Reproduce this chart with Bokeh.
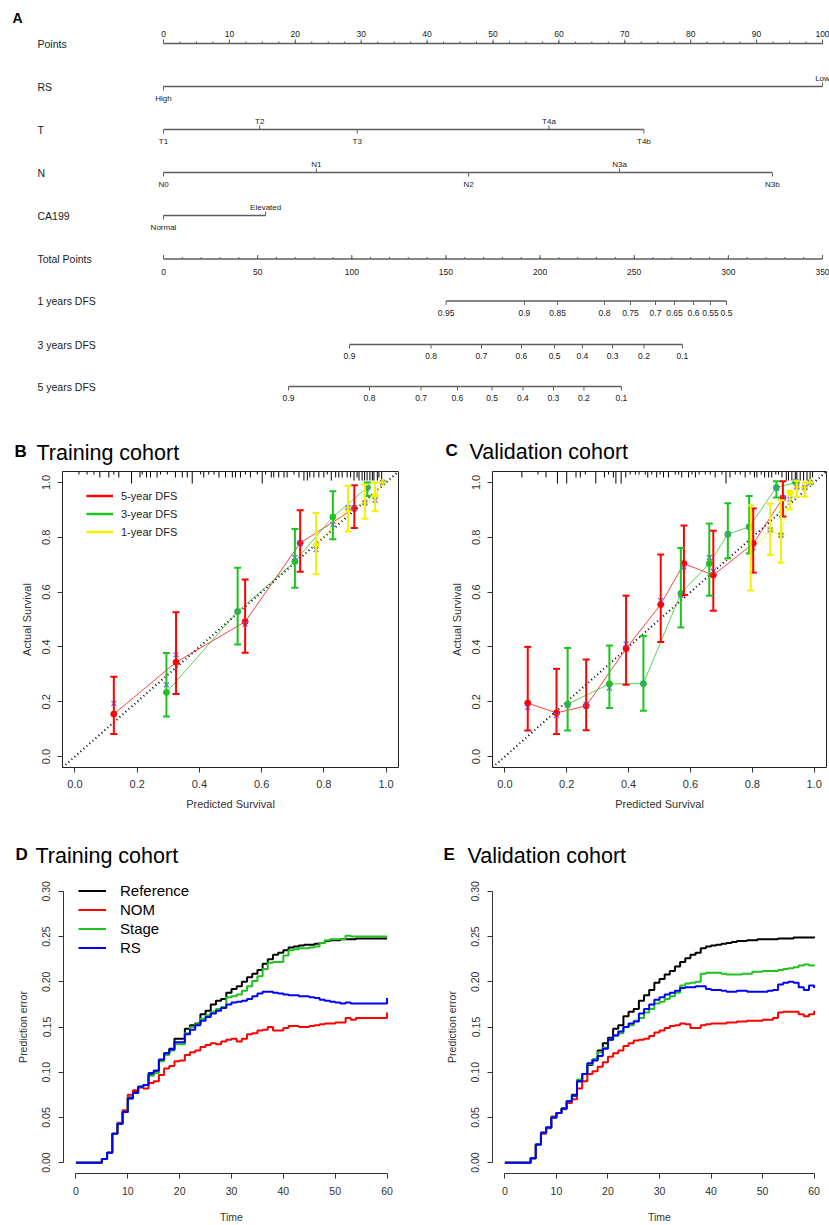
import numpy as np
from bokeh.plotting import figure
from bokeh.models import (Range1d, Label, Legend, LegendItem, Whisker, ColumnDataSource,
                          FixedTicker, NumeralTickFormatter, TeeHead)
from bokeh.layouts import column, row
from bokeh.core.properties import value
from bokeh.embed import file_html
from bokeh.resources import INLINE

FONT = "Liberation Sans"

# ---------------- Panel A : nomogram data ----------------
nomo_rows = ["Points", "RS", "T", "N", "CA199", "Total Points",
             "1 years DFS", "3 years DFS", "5 years DFS"]
points_labels = [0, 10, 20, 30, 40, 50, 60, 70, 80, 90, 100]
points_minor = [x * 2.5 for x in range(41)]
rs_levels = ["High", "Low"]
rs_points = [0.0, 100.0]
rs_sides = ["below", "above"]
t_levels = ["T1", "T2", "T3", "T4a", "T4b"]
t_points = [0.0, 14.6, 29.4, 58.5, 72.9]
t_sides = ["below", "above", "below", "above", "below"]
n_levels = ["N0", "N1", "N2", "N3a", "N3b"]
n_points = [0.0, 23.2, 46.3, 69.2, 92.4]
n_sides = ["below", "above", "below", "above", "below"]
ca_levels = ["Normal", "Elevated"]
ca_points = [0.0, 15.5]
ca_sides = ["below", "above"]
total_max = 350
total_labels = [0, 50, 100, 150, 200, 250, 300, 350]
total_minor = [x * 10 for x in range(36)]
dfs1_labels = ["0.95", "0.9", "0.85", "0.8", "0.75", "0.7", "0.65", "0.6", "0.55", "0.5"]
dfs1_total = [150.1, 191.7, 209.3, 234.2, 248.0, 261.3, 271.4, 281.5, 290.5, 299.0]
dfs3_labels = ["0.9", "0.8", "0.7", "0.6", "0.5", "0.4", "0.3", "0.2", "0.1"]
dfs3_total = [98.8, 142.1, 168.9, 190.1, 207.7, 222.5, 238.5, 255.2, 275.6]
dfs5_labels = ["0.9", "0.8", "0.7", "0.6", "0.5", "0.4", "0.3", "0.2", "0.1"]
dfs5_total = [66.4, 109.4, 136.8, 156.1, 174.5, 190.9, 207.1, 223.3, 243.2]

# ---------------- Panel B : training calibration ----------------
b5_pred = [0.125, 0.325, 0.547, 0.724, 0.898]
b5_obs = [0.155, 0.344, 0.492, 0.779, 0.905]
b5_lo = [0.082, 0.228, 0.379, 0.674, 0.834]
b5_hi = [0.291, 0.526, 0.646, 0.899, 0.990]
b5_cor = [0.194, 0.371, 0.483, 0.779, 0.907]
b3_pred = [0.294, 0.523, 0.707, 0.829, 0.940]
b3_obs = [0.234, 0.529, 0.712, 0.874, 0.982]
b3_lo = [0.146, 0.409, 0.616, 0.793, 0.951]
b3_hi = [0.378, 0.689, 0.830, 0.968, 1.000]
b3_cor = [0.262, 0.529, 0.726, 0.846, 0.982]
b1_pred = [0.775, 0.878, 0.932, 0.965, 0.989]
b1_obs = [0.770, 0.901, 0.926, 0.951, 1.000]
b1_lo = [0.665, 0.821, 0.868, 0.895, 1.000]
b1_hi = [0.889, 0.988, 0.993, 1.000, 1.000]
b1_cor = [0.755, 0.909, 0.926, 0.935, 1.000]
b_rug_x = [0.013, 0.039, 0.061, 0.080, 0.109, 0.125, 0.141, 0.182, 0.209, 0.216,
           0.230, 0.243, 0.264, 0.275, 0.297, 0.323, 0.345, 0.361, 0.377, 0.404,
           0.414, 0.430, 0.447, 0.463, 0.484, 0.506, 0.516, 0.532, 0.548, 0.564,
           0.586, 0.602, 0.613, 0.631, 0.639, 0.655, 0.672, 0.682, 0.704, 0.720,
           0.736, 0.747, 0.755, 0.768, 0.784, 0.800, 0.811, 0.824, 0.838, 0.848,
           0.859, 0.875, 0.886, 0.897, 0.907, 0.913, 0.923, 0.931, 0.939, 0.948,
           0.956, 0.961, 0.972, 0.977, 0.986]
b_rug_n = [1, 1, 1, 2, 2, 1, 2, 4, 2, 1,
           2, 2, 2, 1, 1, 2, 2, 2, 4, 1,
           2, 1, 1, 2, 2, 2, 2, 2, 1, 2,
           1, 4, 1, 2, 2, 2, 2, 2, 1, 2,
           3, 3, 2, 2, 2, 2, 1, 3, 2, 2,
           2, 2, 2, 3, 2, 3, 3, 3, 3, 3,
           3, 3, 3, 2, 3]

# ---------------- Panel C : validation calibration ----------------
c5_pred = [0.074, 0.167, 0.263, 0.392, 0.504, 0.579, 0.674, 0.803, 0.899]
c5_obs = [0.195, 0.159, 0.185, 0.394, 0.555, 0.704, 0.662, 0.777, 0.943]
c5_lo = [0.095, 0.082, 0.096, 0.262, 0.418, 0.589, 0.532, 0.671, 0.876]
c5_hi = [0.400, 0.320, 0.354, 0.587, 0.737, 0.843, 0.824, 0.905, 1.004]
c5_cor = [0.179, 0.150, 0.191, 0.411, 0.570, 0.691, 0.676, 0.762, 0.945]
c3_pred = [0.203, 0.338, 0.448, 0.569, 0.661, 0.721, 0.790, 0.878, 0.941]
c3_obs = [0.191, 0.265, 0.266, 0.595, 0.704, 0.811, 0.838, 0.982, 1.000]
c3_lo = [0.095, 0.177, 0.167, 0.471, 0.587, 0.723, 0.741, 0.945, 1.000]
c3_hi = [0.396, 0.405, 0.440, 0.761, 0.850, 0.924, 0.951, 1.004, 1.000]
c3_cor = [0.187, 0.250, 0.266, 0.589, 0.726, 0.811, 0.838, 0.979, 1.004]
c1_pred = [0.795, 0.858, 0.893, 0.922, 0.944, 0.970, 0.987]
c1_obs = [0.748, 0.827, 0.807, 0.961, 0.982, 0.979, 1.000]
c1_lo = [0.606, 0.735, 0.707, 0.902, 0.948, 0.948, 1.000]
c1_hi = [0.917, 0.923, 0.935, 0.970, 1.006, 1.000, 1.000]
c1_cor = [0.752, 0.827, 0.807, 0.939, 0.984, 0.982, 1.000]
c_rug_x = [0.055, 0.107, 0.133, 0.170, 0.200, 0.230, 0.244, 0.260, 0.294, 0.322,
           0.335, 0.351, 0.359, 0.376, 0.391, 0.405, 0.422, 0.434, 0.454, 0.462,
           0.475, 0.491, 0.502, 0.513, 0.529, 0.551, 0.562, 0.572, 0.594, 0.605,
           0.616, 0.628, 0.648, 0.664, 0.680, 0.702, 0.715, 0.728, 0.745, 0.761,
           0.777, 0.793, 0.807, 0.815, 0.829, 0.840, 0.853, 0.863, 0.876, 0.885,
           0.896, 0.910, 0.917, 0.928, 0.939, 0.944, 0.955, 0.966, 0.977, 0.987,
           0.995]
c_rug_n = [2, 1, 2, 4, 4, 2, 2, 1, 4, 2,
           1, 2, 4, 4, 2, 1, 1, 1, 1, 2,
           1, 2, 1, 2, 2, 1, 1, 2, 2, 1,
           2, 1, 1, 1, 2, 1, 4, 2, 1, 1,
           2, 1, 2, 2, 1, 2, 2, 2, 1, 1,
           2, 3, 3, 3, 3, 3, 3, 3, 3, 3,
           2]

# ---------------- Panels D / E : prediction error curves ----------------
months = list(range(61))
d_ref = [0, 0, 0, 0, 0, 0.004, 0.011, 0.032, 0.043, 0.056,
         0.072, 0.078, 0.084, 0.086, 0.097, 0.100, 0.113, 0.121, 0.126, 0.137,
         0.137, 0.148, 0.152, 0.154, 0.164, 0.168, 0.175, 0.179, 0.181, 0.188,
         0.192, 0.195, 0.200, 0.205, 0.209, 0.213, 0.220, 0.225, 0.230, 0.232,
         0.235, 0.238, 0.239, 0.240, 0.241, 0.241, 0.242, 0.243, 0.245, 0.246,
         0.246, 0.247, 0.247, 0.247, 0.248, 0.248, 0.248, 0.248, 0.248, 0.248,
         0.248]
d_nom = [0, 0, 0, 0, 0, 0.004, 0.011, 0.032, 0.044, 0.058,
         0.075, 0.080, 0.083, 0.082, 0.088, 0.090, 0.097, 0.104, 0.107, 0.112,
         0.113, 0.119, 0.122, 0.124, 0.128, 0.130, 0.132, 0.131, 0.134, 0.136,
         0.137, 0.134, 0.137, 0.142, 0.143, 0.146, 0.147, 0.150, 0.146, 0.146,
         0.149, 0.151, 0.151, 0.150, 0.150, 0.151, 0.152, 0.153, 0.154, 0.154,
         0.155, 0.155, 0.160, 0.158, 0.160, 0.160, 0.160, 0.160, 0.160, 0.160,
         0.166]
d_stage = [0, 0, 0, 0, 0, 0.004, 0.011, 0.032, 0.043, 0.056,
           0.071, 0.077, 0.084, 0.086, 0.096, 0.099, 0.112, 0.119, 0.124, 0.131,
           0.131, 0.143, 0.150, 0.153, 0.159, 0.163, 0.167, 0.170, 0.172, 0.183,
           0.184, 0.186, 0.190, 0.195, 0.201, 0.206, 0.214, 0.221, 0.222, 0.222,
           0.229, 0.235, 0.236, 0.237, 0.237, 0.238, 0.239, 0.243, 0.246, 0.247,
           0.247, 0.247, 0.251, 0.250, 0.250, 0.250, 0.250, 0.250, 0.250, 0.250,
           0.250]
d_rs = [0, 0, 0, 0, 0, 0.004, 0.011, 0.032, 0.043, 0.056,
        0.071, 0.077, 0.084, 0.086, 0.099, 0.102, 0.114, 0.121, 0.125, 0.133,
        0.133, 0.142, 0.147, 0.152, 0.157, 0.161, 0.165, 0.168, 0.171, 0.175,
        0.177, 0.178, 0.179, 0.181, 0.184, 0.187, 0.189, 0.189, 0.188, 0.187,
        0.186, 0.185, 0.185, 0.184, 0.184, 0.183, 0.182, 0.180, 0.179, 0.178,
        0.177, 0.176, 0.177, 0.176, 0.176, 0.176, 0.176, 0.176, 0.176, 0.176,
        0.182]
e_ref = [0, 0, 0, 0, 0, 0.005, 0.020, 0.033, 0.039, 0.050,
         0.055, 0.060, 0.068, 0.075, 0.090, 0.098, 0.108, 0.114, 0.124, 0.132,
         0.138, 0.148, 0.152, 0.162, 0.167, 0.170, 0.179, 0.185, 0.191, 0.199,
         0.203, 0.208, 0.212, 0.217, 0.222, 0.226, 0.230, 0.232, 0.237, 0.239,
         0.240, 0.241, 0.242, 0.243, 0.244, 0.245, 0.245, 0.246, 0.246, 0.247,
         0.247, 0.247, 0.247, 0.248, 0.248, 0.248, 0.249, 0.249, 0.249, 0.249,
         0.250]
e_nom = [0, 0, 0, 0, 0, 0.005, 0.020, 0.032, 0.038, 0.051,
         0.055, 0.059, 0.066, 0.070, 0.082, 0.090, 0.098, 0.101, 0.106, 0.111,
         0.117, 0.121, 0.124, 0.129, 0.132, 0.135, 0.136, 0.137, 0.140, 0.144,
         0.146, 0.149, 0.151, 0.152, 0.154, 0.153, 0.149, 0.149, 0.152, 0.153,
         0.154, 0.154, 0.154, 0.155, 0.155, 0.156, 0.156, 0.157, 0.157, 0.157,
         0.158, 0.158, 0.160, 0.166, 0.167, 0.167, 0.167, 0.164, 0.162, 0.164,
         0.168]
e_stage = [0, 0, 0, 0, 0, 0.005, 0.020, 0.033, 0.039, 0.050,
           0.055, 0.060, 0.068, 0.074, 0.092, 0.098, 0.109, 0.114, 0.122, 0.127,
           0.136, 0.140, 0.143, 0.150, 0.152, 0.157, 0.160, 0.166, 0.170, 0.176,
           0.178, 0.181, 0.184, 0.188, 0.196, 0.198, 0.199, 0.200, 0.209, 0.210,
           0.210, 0.210, 0.209, 0.208, 0.208, 0.208, 0.209, 0.209, 0.211, 0.211,
           0.212, 0.212, 0.212, 0.213, 0.214, 0.215, 0.216, 0.218, 0.219, 0.218,
           0.219]
e_rs = [0, 0, 0, 0, 0, 0.005, 0.020, 0.033, 0.039, 0.050,
        0.055, 0.060, 0.068, 0.074, 0.090, 0.098, 0.110, 0.113, 0.118, 0.126,
        0.136, 0.141, 0.145, 0.150, 0.154, 0.156, 0.165, 0.170, 0.175, 0.180,
        0.183, 0.186, 0.188, 0.190, 0.193, 0.194, 0.194, 0.195, 0.195, 0.192,
        0.191, 0.191, 0.190, 0.189, 0.189, 0.190, 0.190, 0.189, 0.189, 0.189,
        0.189, 0.190, 0.191, 0.197, 0.199, 0.200, 0.199, 0.194, 0.191, 0.196,
        0.193]
pe_names = ["Reference", "NOM", "Stage", "RS"]

# ---------------- styling constants ----------------
RED, GREEN, YELLOW, XCOL = "#ff0000", "#1ec41e", "#f2f200", "#7070ff"
PE_COLORS = ["#000000", "#ff0000", "#1ec41e", "#0000ff"]
NOMO_LINE = "#5e5e5e"
TXT = "#1a1a1a"
NAN = float("nan")

# ================= Panel A =================
PX_PER_PT = 6.59
X0_PX = 163.0
pA = figure(width=829, height=430, output_backend="svg", toolbar_location=None,
            x_range=Range1d(-X0_PX / PX_PER_PT, (829 - X0_PX) / PX_PER_PT),
            y_range=Range1d(430, 0), min_border=0,
            x_axis_location=None, y_axis_location=None)
pA.grid.visible = False
pA.outline_line_color = None
pA.frame_align = False

row_y = [43, 86, 129, 172, 215, 258.5, 300.5, 344, 386]
label_x = (37 - X0_PX) / PX_PER_PT
pA.text(x=[label_x] * len(nomo_rows), y=row_y, text=nomo_rows,
        text_font=value(FONT), text_font_size="10.5px", text_color=TXT,
        text_align="left", text_baseline="middle")
pA.add_layout(Label(x=(12 - X0_PX) / PX_PER_PT, y=17, text="A", text_font=FONT,
                    text_font_size="14px", text_font_style="bold",
                    text_baseline="middle", text_color="black"))


def hline(p, pts, yrow):
    p.line(x=[min(pts), max(pts)], y=[yrow, yrow], line_color=NOMO_LINE, line_width=1.3)


def cat_row(p, yrow, pts, labels, sides):
    hline(p, pts, yrow)
    up = [s == "above" for s in sides]
    p.segment(x0=pts, x1=pts, y0=[yrow] * len(pts),
              y1=[yrow - 4 if u else yrow + 4 for u in up],
              line_color=NOMO_LINE, line_width=1)
    p.text(x=pts, y=[yrow - 8.5 if u else yrow + 11.5 for u in up], text=labels,
           text_font=value(FONT), text_font_size="8px", text_color=TXT,
           text_align="center", text_baseline="middle")


# Points axis
yP = row_y[0]
hline(pA, points_labels, yP)
pA.segment(x0=points_minor, x1=points_minor, y0=[yP] * len(points_minor),
           y1=[yP - 2] * len(points_minor), line_color=NOMO_LINE, line_width=1)
pA.segment(x0=points_labels, x1=points_labels, y0=[yP] * len(points_labels),
           y1=[yP - 4] * len(points_labels), line_color=NOMO_LINE, line_width=1)
pA.text(x=points_labels, y=[yP - 10] * len(points_labels),
        text=[str(v) for v in points_labels], text_font=value(FONT),
        text_font_size="8.5px", text_color=TXT, text_align="center", text_baseline="middle")

cat_row(pA, row_y[1], rs_points, rs_levels, rs_sides)
cat_row(pA, row_y[2], t_points, t_levels, t_sides)
cat_row(pA, row_y[3], n_points, n_levels, n_sides)
cat_row(pA, row_y[4], ca_points, ca_levels, ca_sides)

# Total points axis
scale_tp = 100.0 / total_max
yT = row_y[5]
tp_major = [v * scale_tp for v in total_labels]
tp_minor = [v * scale_tp for v in total_minor]
hline(pA, tp_major, yT)
pA.segment(x0=tp_minor, x1=tp_minor, y0=[yT] * len(tp_minor), y1=[yT - 2] * len(tp_minor),
           line_color=NOMO_LINE, line_width=1)
pA.segment(x0=tp_major, x1=tp_major, y0=[yT] * len(tp_major), y1=[yT - 4] * len(tp_major),
           line_color=NOMO_LINE, line_width=1)
pA.text(x=tp_major, y=[yT + 13] * len(tp_major), text=[str(v) for v in total_labels],
        text_font=value(FONT), text_font_size="8.5px", text_color=TXT,
        text_align="center", text_baseline="middle")


def dfs_row(p, yrow, totals, labels):
    pts = [v * scale_tp for v in totals]
    hline(p, pts, yrow)
    p.segment(x0=pts, x1=pts, y0=[yrow] * len(pts), y1=[yrow + 4] * len(pts),
              line_color=NOMO_LINE, line_width=1)
    p.text(x=pts, y=[yrow + 11.5] * len(pts), text=labels, text_font=value(FONT),
           text_font_size="8.5px", text_color=TXT, text_align="center", text_baseline="middle")


dfs_row(pA, row_y[6], dfs1_total, dfs1_labels)
dfs_row(pA, row_y[7], dfs3_total, dfs3_labels)
dfs_row(pA, row_y[8], dfs5_total, dfs5_labels)


# ================= title strips =================
def title_strip(width, height, letter, text, lx, ly, tx, ty):
    t = figure(width=width, height=height, output_backend="svg", toolbar_location=None,
               x_range=Range1d(0, width), y_range=Range1d(height, 0), min_border=0,
               x_axis_location=None, y_axis_location=None)
    t.frame_align = False
    t.grid.visible = False
    t.outline_line_color = None
    t.add_layout(Label(x=lx, y=ly, text=letter, text_font=FONT, text_font_size="17px",
                       text_font_style="bold", text_color="black", text_baseline="alphabetic"))
    t.add_layout(Label(x=tx, y=ty, text=text, text_font=FONT, text_font_size="21.5px",
                       text_color="black", text_baseline="alphabetic"))
    return t


# ================= Panels B / C =================
def style_axes(p, tick_fmt, font_size):
    p.frame_align = False
    p.grid.visible = False
    p.axis.major_tick_out = 5
    p.axis.major_tick_in = 0
    p.axis.minor_tick_line_color = None
    p.axis.major_tick_line_color = "#333333"
    p.axis.major_label_text_font = FONT
    p.axis.major_label_text_font_size = font_size
    p.axis.major_label_text_color = "#333333"
    p.axis.axis_label_text_font = FONT
    p.axis.axis_label_text_font_size = font_size
    p.axis.axis_label_text_font_style = "normal"
    p.axis.axis_label_text_color = "#333333"
    p.axis.formatter = NumeralTickFormatter(format=tick_fmt)
    p.yaxis.major_label_orientation = "vertical"


def calib_fig(width, left, right, series, rug_x, rug_n):
    p = figure(width=width, height=365, output_backend="svg", toolbar_location=None,
               x_range=Range1d(-0.04, 1.04), y_range=Range1d(-0.04, 1.04),
               min_border_left=left, min_border_right=right,
               min_border_top=1, min_border_bottom=68,
               x_axis_label="Predicted Survival", y_axis_label="Actual Survival")
    style_axes(p, "0.0", "11px")
    p.xaxis.ticker = FixedTicker(ticks=[0, 0.2, 0.4, 0.6, 0.8, 1.0])
    p.yaxis.ticker = FixedTicker(ticks=[0, 0.2, 0.4, 0.6, 0.8, 1.0])
    p.axis.axis_line_color = None
    p.axis.major_label_standoff = 7
    p.axis.axis_label_standoff = 7
    p.outline_line_color = "#222222"
    p.outline_line_width = 1
    lo, hi = p.x_range.start, p.x_range.end
    p.line(x=[lo, hi], y=[lo, hi], line_color="black", line_width=2, line_dash="1 3")
    top = p.y_range.end
    p.segment(x0=rug_x, x1=rug_x, y0=[top] * len(rug_x),
              y1=[top - 0.011 * n for n in rug_n], line_color="black", line_width=1)
    for pred, obs, lo_, hi_, cor, col in series:
        p.line(x=pred, y=obs, line_color=col, line_width=1, line_alpha=0.75)
    for pred, obs, lo_, hi_, cor, col in series:
        src = ColumnDataSource(dict(x=pred, lo=lo_, hi=hi_))
        p.add_layout(Whisker(source=src, base="x", lower="lo", upper="hi", dimension="height",
                             line_color=col, line_width=2, level="glyph",
                             upper_head=TeeHead(size=7, line_color=col, line_width=2),
                             lower_head=TeeHead(size=7, line_color=col, line_width=2)))
    for pred, obs, lo_, hi_, cor, col in series:
        p.scatter(x=pred, y=obs, size=6, fill_color=col, line_color=col)
    for pred, obs, lo_, hi_, cor, col in series:
        p.scatter(x=pred, y=cor, marker="x", size=7, line_color=XCOL, line_width=1.3)
    return p


b_series = [(b5_pred, b5_obs, b5_lo, b5_hi, b5_cor, RED),
            (b3_pred, b3_obs, b3_lo, b3_hi, b3_cor, GREEN),
            (b1_pred, b1_obs, b1_lo, b1_hi, b1_cor, YELLOW)]
c_series = [(c5_pred, c5_obs, c5_lo, c5_hi, c5_cor, RED),
            (c3_pred, c3_obs, c3_lo, c3_hi, c3_cor, GREEN),
            (c1_pred, c1_obs, c1_lo, c1_hi, c1_cor, YELLOW)]

pB = calib_fig(414, 62, 16, b_series, b_rug_x, b_rug_n)
pC = calib_fig(415, 78, 3, c_series, c_rug_x, c_rug_n)

calib_names = ["5-year DFS", "3-year DFS", "1-year DFS"]
leg_r = [pB.line(x=[NAN], y=[NAN], line_color=c, line_width=2.5) for c in (RED, GREEN, YELLOW)]
legB = Legend(items=[LegendItem(label=n, renderers=[r]) for n, r in zip(calib_names, leg_r)],
              location=(24, 227), border_line_alpha=0, background_fill_alpha=0,
              glyph_width=27, glyph_height=17, label_height=17, label_standoff=8,
              spacing=1, padding=0, margin=0, label_text_font=FONT,
              label_text_font_size="11px", label_text_color="#222222")
pB.add_layout(legB)

tB = title_strip(414, 40, "B", "Training cohort", 14, 21, 36, 22)
tC = title_strip(415, 40, "C", "Validation cohort", 31, 20, 55, 21.3)


# ================= Panels D / E =================
def pe_fig(width, left, right, curves, with_legend):
    p = figure(width=width, height=346, output_backend="svg", toolbar_location=None,
               x_range=Range1d(-2.4, 62.4), y_range=Range1d(-0.012, 0.312),
               min_border_left=left, min_border_right=right,
               min_border_top=1, min_border_bottom=49,
               x_axis_label="Time", y_axis_label="Prediction error")
    style_axes(p, "0.00", "10.5px")
    p.xaxis.formatter = NumeralTickFormatter(format="0")
    p.xaxis.ticker = FixedTicker(ticks=[0, 10, 20, 30, 40, 50, 60])
    p.yaxis.ticker = FixedTicker(ticks=[0, 0.05, 0.10, 0.15, 0.20, 0.25, 0.30])
    p.xaxis.bounds = (0, 60)
    p.yaxis.bounds = (0, 0.30)
    p.axis.axis_line_color = "#333333"
    p.axis.major_label_standoff = 8
    p.yaxis.axis_label_standoff = 11
    p.xaxis.axis_label_standoff = 13
    p.outline_line_color = None
    for ys, col in zip(curves, PE_COLORS):
        p.step(x=months, y=ys, mode="after", line_color=col, line_width=2)
    if with_legend:
        lr = [p.line(x=[NAN], y=[NAN], line_color=c, line_width=2) for c in PE_COLORS]
        leg = Legend(items=[LegendItem(label=n, renderers=[r]) for n, r in zip(pe_names, lr)],
                     location=(15, 216), border_line_alpha=0, background_fill_alpha=0,
                     glyph_width=28, glyph_height=19, label_height=19, label_standoff=14,
                     spacing=0, padding=0, margin=0, label_text_font=FONT,
                     label_text_font_size="15px", label_text_color="black")
        p.add_layout(leg)
    return p


pD = pe_fig(414, 63, 15, [d_ref, d_nom, d_stage, d_rs], True)
pE = pe_fig(415, 78, 3, [e_ref, e_nom, e_stage, e_rs], False)
tD = title_strip(414, 44, "D", "Training cohort", 15, 19, 35, 20)
tE = title_strip(415, 44, "E", "Validation cohort", 29, 19, 53, 20)

layout = column(pA, row(column(tB, pB), column(tC, pC)), row(column(tD, pD), column(tE, pE)))
open("out.html", "w").write(file_html(layout, INLINE))
